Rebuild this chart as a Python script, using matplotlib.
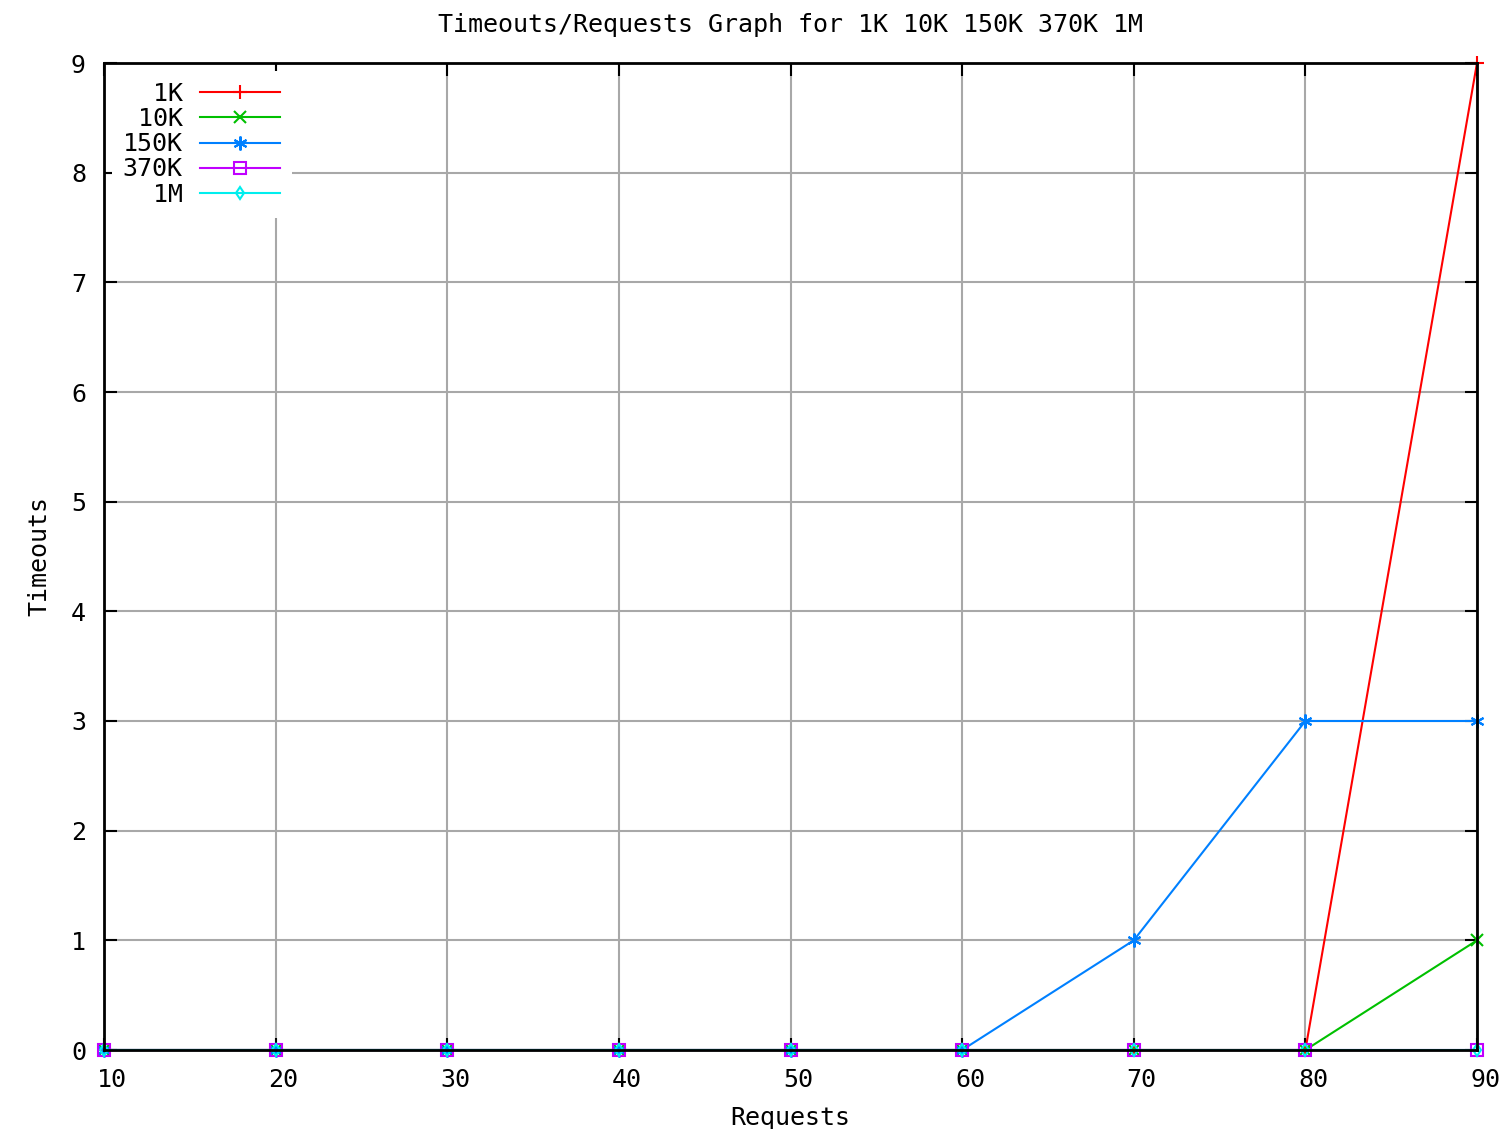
import numpy as np
import matplotlib
matplotlib.use('Agg')
import matplotlib.pyplot as plt
import matplotlib.transforms as mtransforms

# данные с графика
requests = [10, 20, 30, 40, 50, 60, 70, 80, 90]
t_1k = [0, 0, 0, 0, 0, 0, 0, 0, 9]
t_10k = [0, 0, 0, 0, 0, 0, 0, 0, 1]
t_150k = [0, 0, 0, 0, 0, 0, 1, 3, 3]
t_370k = [0, 0, 0, 0, 0, 0, 0, 0, 0]
t_1m = [0, 0, 0, 0, 0, 0, 0, 0, 0]
names = ['  1K', ' 10K', '150K', '370K', '  1M']

plt.rcParams['font.family'] = ['DejaVu Sans Mono']
fs = 18

fig = plt.figure(figsize=(15.04, 11.29), dpi=100)
ax = fig.add_axes([104/1504, 1 - 1050/1129, (1477-104)/1504, (1050-63)/1129])

series = [
    (t_1k, '#ff0000', '+', 10, None),
    (t_10k, '#00c000', 'x', 8, None),
    (t_150k, '#0080ff', (6, 2, 0), 10, None),
    (t_370k, '#c000ff', 's', 8, 'none'),
    (t_1m, '#00eeee', 'd', 6, 'none'),
]
for (vals, col, mk, ms, mfc), nm in zip(series, names):
    ax.plot(requests, vals, color=col, marker=mk, markersize=ms, lw=1.5,
            mfc=mfc if mfc else col, mec=col, mew=1.5, label=nm, clip_on=False, zorder=2.4)

ax.set_xlim(10, 90)
ax.set_ylim(0, 9)
ax.set_xticks(np.arange(10, 91, 10))
ax.set_yticks(np.arange(0, 10, 1))
ax.grid(True, color='#a8a8a8', lw=1.5)
ax.tick_params(direction='in', length=9, width=1.5, top=True, right=True,
               labelsize=fs, pad=13)
for s in ax.spines.values():
    s.set_linewidth(2)

# метки по x у gnuplot немного сдвинуты вправо
offset = mtransforms.ScaledTranslation(8/100, 0, fig.dpi_scale_trans)
for lab in ax.get_xticklabels():
    lab.set_transform(lab.get_transform() + offset)

ax.set_xlabel('Requests', fontsize=fs, labelpad=10)
ax.set_ylabel('Timeouts', fontsize=fs, labelpad=14)
ax.set_title('Timeouts/Requests Graph for 1K 10K 150K 370K 1M', fontsize=fs, pad=22)

leg = ax.legend(loc='upper left', bbox_to_anchor=(0, 1), borderaxespad=0.3,
                markerfirst=False, fontsize=fs, handlelength=3.2, handletextpad=0.7,
                labelspacing=0.05, frameon=True, fancybox=False, framealpha=1,
                edgecolor='none', facecolor='white', borderpad=0.45)

plt.savefig('out.png', dpi=100)
